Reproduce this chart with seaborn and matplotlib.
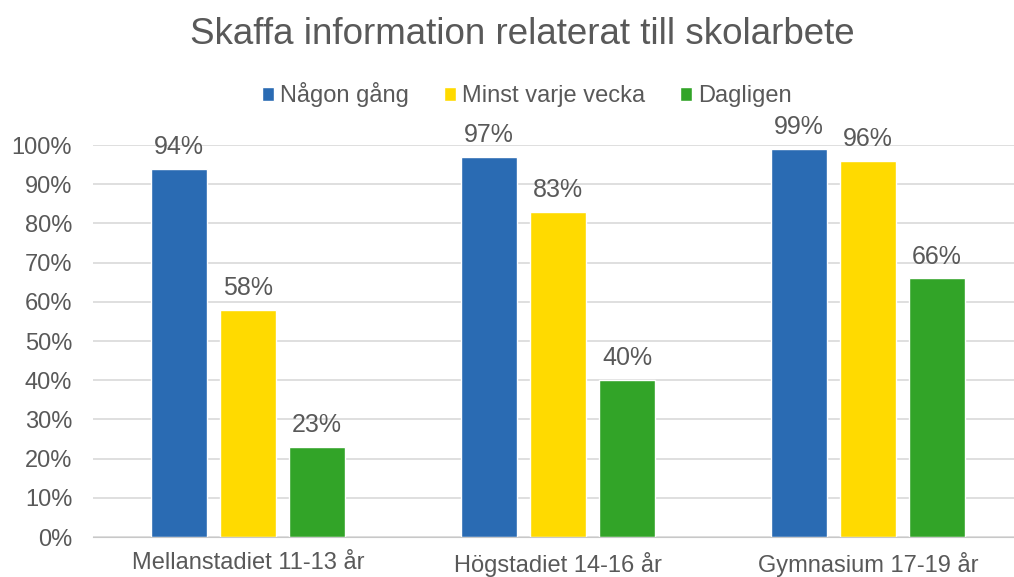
import pandas as pd
import matplotlib
matplotlib.use('Agg')
import matplotlib.pyplot as plt
import seaborn as sns

groups = ['Mellanstadiet 11-13 år', 'Högstadiet 14-16 år', 'Gymnasium 17-19 år']
series = ['Någon gång', 'Minst varje vecka', 'Dagligen']
nagon_gang = [94, 97, 99]
minst_varje_vecka = [58, 83, 96]
dagligen = [23, 40, 66]
yticks = [0, 10, 20, 30, 40, 50, 60, 70, 80, 90, 100]

colors = ['#2A6BB3', '#FFDA00', '#32A428']
txt = '#595959'

rows = []
for s, vals in zip(series, [nagon_gang, minst_varje_vecka, dagligen]):
    for g, v in zip(groups, vals):
        rows.append({'grupp': g, 'serie': s, 'andel': v})
df = pd.DataFrame(rows)

sns.set_style('white')
plt.rcParams['font.family'] = ['Liberation Sans', 'DejaVu Sans']

fig = plt.figure(figsize=(10.14, 5.77), dpi=100)
ax = fig.add_axes([93 / 1014, 40 / 577, 930 / 1014, 392 / 577])

sns.barplot(data=df, x='grupp', y='andel', hue='serie', palette=colors,
            width=0.668, gap=0.2, ax=ax, saturation=1, legend=True)

# procentetiketter ovanför staplarna
for cont in ax.containers:
    for bar in cont:
        h = bar.get_height()
        ax.annotate(f'{h:.0f}%', (bar.get_x() + bar.get_width() / 2, h),
                    xytext=(0, 7), textcoords='offset points',
                    ha='center', va='bottom', fontsize=18, color=txt,
                    annotation_clip=False)

ax.set_ylim(0, 100)
ax.set_yticks(yticks)
ax.set_yticklabels([f'{t}%' for t in yticks], fontsize=17, color=txt)
ax.tick_params(axis='x', labelsize=17, labelcolor=txt, length=0, pad=11)
ax.tick_params(axis='y', length=0, pad=15)
ax.grid(axis='y', color='#D9D9D9', linewidth=1.2)
ax.set_axisbelow(True)
for sp in ['left', 'right', 'top']:
    ax.spines[sp].set_visible(False)
ax.spines['bottom'].set_color('#C8C8C8')
ax.set_xlabel('')
ax.set_ylabel('')

ax.legend(loc='center', ncol=3, frameon=False, fontsize=17, labelcolor=txt,
          handlelength=0.5, handleheight=0.5, handletextpad=0.25, columnspacing=1.5)
ax.get_legend().set_bbox_to_anchor((527 / 1014, 1 - 95 / 577), transform=fig.transFigure)

fig.text(522 / 1014, 1 - 35 / 577, 'Skaffa information relaterat till skolarbete',
         ha='center', va='center', fontsize=26.5, color=txt)

fig.savefig('out.png', dpi=100)
